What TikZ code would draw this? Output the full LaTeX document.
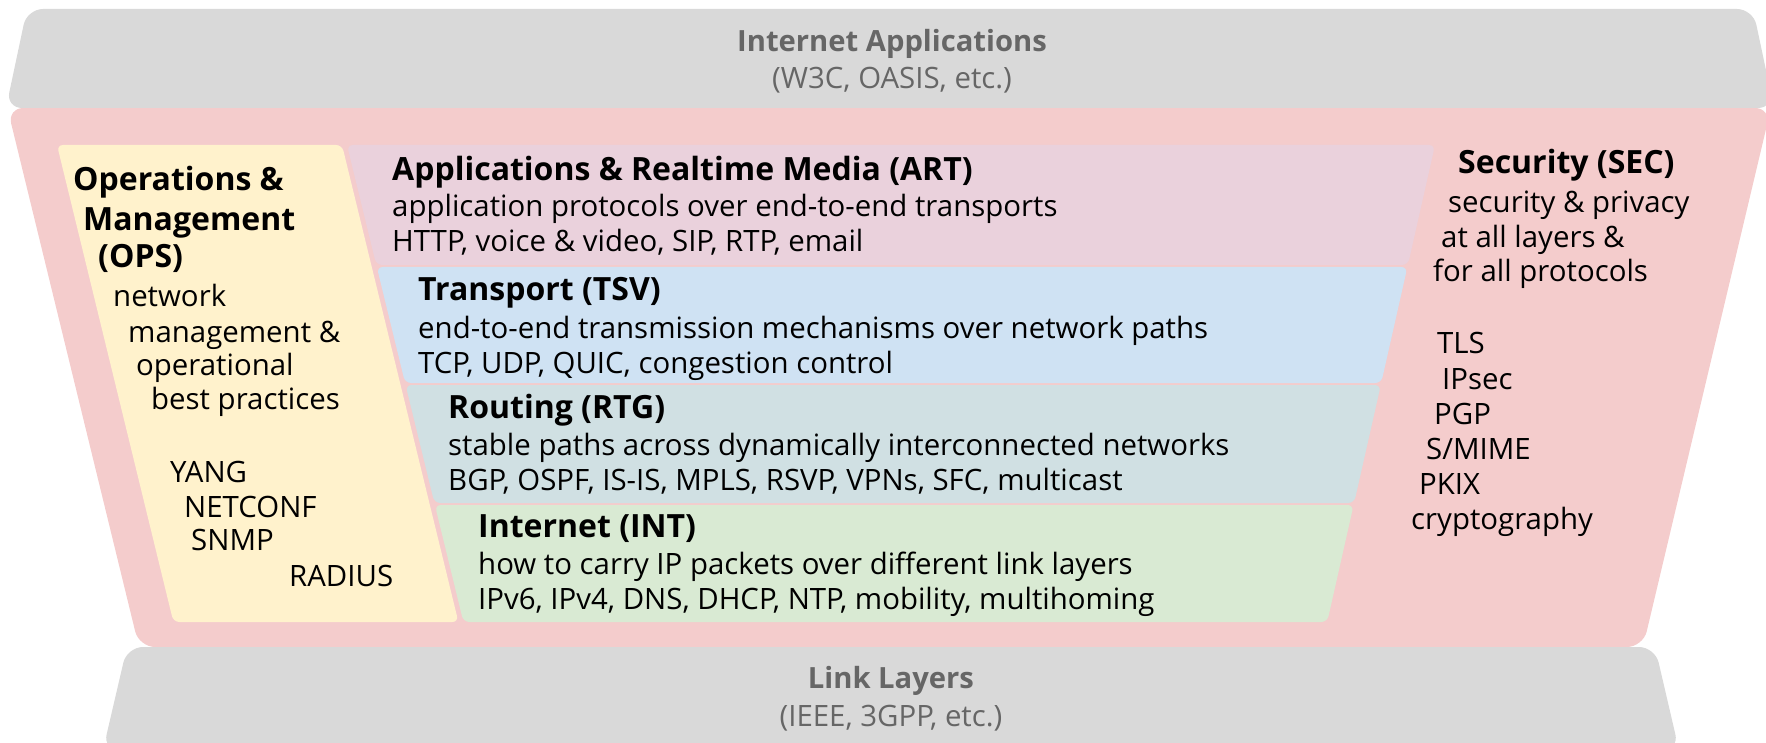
\documentclass[tikz,border=0pt]{standalone}
\usepackage{fontspec}
\setmainfont{Open Sans}
\definecolor{bandgray}{HTML}{D9D9D9}
\definecolor{bandtext}{HTML}{666666}
\definecolor{secred}{HTML}{F4CCCC}
\definecolor{opsyellow}{HTML}{FFF2CC}
\definecolor{artpink}{HTML}{EAD1DC}
\definecolor{tsvblue}{HTML}{CFE2F3}
\definecolor{rtgcyan}{HTML}{D0E0E3}
\definecolor{intgreen}{HTML}{D9EAD3}
\begin{document}
\begin{tikzpicture}[x=1pt,y=-1pt,
  txt/.style={anchor=base west,inner sep=0pt,font=\fontsize{29.4}{35}\selectfont},
  ttl/.style={anchor=base west,inner sep=0pt,font=\fontsize{32}{38}\selectfont\bfseries},
  bandttl/.style={anchor=base,inner sep=0pt,text=bandtext,font=\fontsize{29.2}{35}\selectfont\bfseries},
  bandsub/.style={anchor=base,inner sep=0pt,text=bandtext,font=\fontsize{29.4}{35}\selectfont},
  bigcorner/.style={rounded corners=16pt},
  smallcorner/.style={rounded corners=6pt}]
\useasboundingbox (0,0) rectangle (1766,743);
% security (red) trapezoid
\fill[secred,bigcorner] (7.4,108) -- (1771,108) -- (1643,647) -- (139,647) -- cycle;
% top band
\fill[bandgray,bigcorner] (27,9) -- (1753,9) -- (1774,108) -- (6,108) -- cycle;
% bottom band
\fill[bandgray,bigcorner] (127,647) -- (1655,647) -- (1679,750) -- (103,750) -- cycle;
% OPS
\fill[opsyellow,smallcorner] (57,145) -- (342,145) -- (458.4,622) -- (173.4,622) -- cycle;
% ART
\fill[artpink,smallcorner] (347,145) -- (1435,145) -- (1407.9,265) -- (376.3,265) -- cycle;
% TSV
\fill[tsvblue,smallcorner] (376.8,267) -- (1407.4,267) -- (1381.2,383) -- (405.1,383) -- cycle;
% RTG
\fill[rtgcyan,smallcorner] (405.6,385) -- (1380.8,385) -- (1354.1,503) -- (434.4,503) -- cycle;
% INT
\fill[intgreen,smallcorner] (434.9,505) -- (1353.6,505) -- (1327.2,622) -- (463.4,622) -- cycle;

% band texts
\node[bandttl] (iapp) at (892,52) {Internet Applications};
\node[bandsub] (iappsub) at (892,89) {(W3C, OASIS, etc.)};
\node[bandttl] (link) at (891,688) {Link Layers};
\node[bandsub] (linksub) at (891,726) {(IEEE, 3GPP, etc.)};

% ART
\node[ttl] (artt) at (392,181) {Applications \& Realtime Media (ART)};
\node[txt] (art1) at (392,217) {application protocols over end-to-end transports};
\node[txt] (art2) at (392,252) {HTTP, voice \& video, SIP, RTP, email};
% TSV
\node[ttl] (tsvt) at (418,300) {Transport (TSV)};
\node[txt] (tsv1) at (418,338) {end-to-end transmission mechanisms over network paths};
\node[txt] (tsv2) at (418,373) {TCP, UDP, QUIC, congestion control};
% RTG
\node[ttl] (rtgt) at (448,418) {Routing (RTG)};
\node[txt] (rtg1) at (448,455) {stable paths across dynamically interconnected networks};
\node[txt] (rtg2) at (448,490) {BGP, OSPF, IS-IS, MPLS, RSVP, VPNs, SFC, multicast};
% INT
\node[ttl] (intt) at (478,537) {Internet (INT)};
\node[txt] (int1) at (478,574) {how to carry IP packets over different link layers};
\node[txt] (int2) at (478,609) {IPv6, IPv4, DNS, DHCP, NTP, mobility, multihoming};

% OPS
\node[ttl] (ops1) at (73,191) {Operations \&};
\node[ttl] (ops2) at (83,231) {Management};
\node[ttl] (ops3) at (98,268) {(OPS)};
\node[txt] (ops4) at (113,306) {network};
\node[txt] (ops5) at (128,342) {management \&};
\node[txt] (ops6) at (136,375) {operational};
\node[txt] (ops7) at (151,409) {best practices};
\node[txt] (ops8) at (170,482) {YANG};
\node[txt] (ops9) at (184,517) {NETCONF};
\node[txt] (ops10) at (191,550) {SNMP};
\node[txt] (ops11) at (289,586) {RADIUS};

% SEC
\node[ttl] (sec1) at (1458,174) {Security (SEC)};
\node[txt] (sec2) at (1448,213) {security \& privacy};
\node[txt] (sec3) at (1441,248) {at all layers \&};
\node[txt] (sec4) at (1433,282) {for all protocols};
\node[txt] (sec5) at (1437,353) {TLS};
\node[txt] (sec6) at (1442,389) {IPsec};
\node[txt] (sec7) at (1434,424) {PGP};
\node[txt] (sec8) at (1426,459) {S/MIME};
\node[txt] (sec9) at (1419,494) {PKIX};
\node[txt] (sec10) at (1411,529) {cryptography};
\end{tikzpicture}
\end{document}
